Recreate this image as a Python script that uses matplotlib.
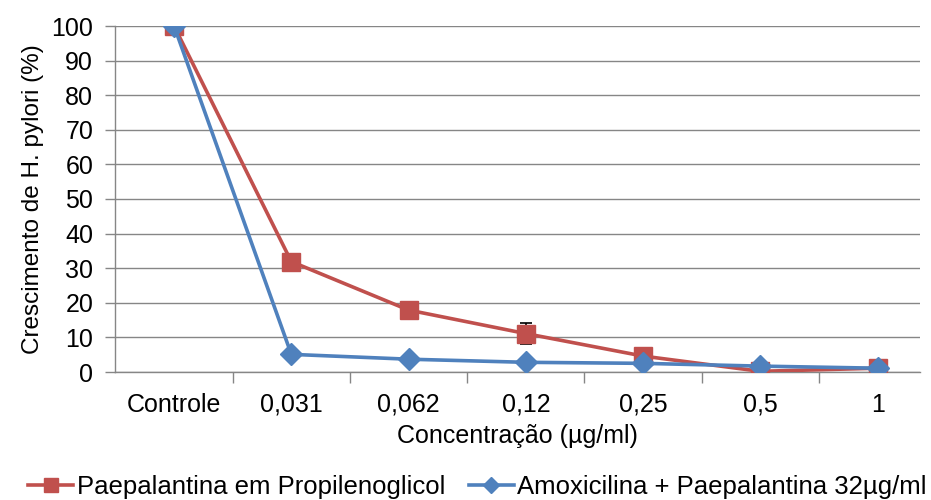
import numpy as np
import matplotlib.pyplot as plt
from matplotlib.lines import Line2D

plt.rcParams['font.family'] = ['Liberation Sans', 'DejaVu Sans']

categorias = ['Controle', '0,031', '0,062', '0,12', '0,25', '0,5', '1']
paepalantina = [100, 31.9, 17.9, 11.1, 4.6, 0.2, 1.1]
paepalantina_erro = [0, 0, 1.5, 3.1, 0, 0, 0]
amoxicilina = [100, 5.1, 3.7, 2.8, 2.5, 1.7, 1.1]

vermelho = '#C0504D'
azul = '#4F81BD'
cinza = '#868686'

fig = plt.figure(figsize=(9.31, 5.0), dpi=100)
ax = fig.add_axes([0.124, 0.256, 0.864, 0.692])

x = np.arange(len(categorias))
ax.errorbar(x, paepalantina, yerr=paepalantina_erro, color=vermelho, lw=2.6,
            marker='s', ms=13, mec=vermelho, ecolor='black', elinewidth=1.2,
            capsize=4, capthick=1.2, zorder=3)
ax.plot(x, amoxicilina, color=azul, lw=2.6, marker='D', ms=11, mec=azul,
        zorder=4)

ax.set_xlim(-0.5, 6.36)
ax.set_ylim(0, 100)
ax.set_yticks(np.arange(0, 101, 10))
ax.yaxis.grid(True, color=cinza, lw=1)
ax.set_axisbelow(True)

ax.set_xticks(x)
ax.set_xticklabels(categorias)
ax.set_xticks(np.arange(0.5, 6, 1), minor=True)
ax.tick_params(axis='x', which='major', length=0, pad=15, labelsize=18)
ax.tick_params(axis='x', which='minor', length=8, color=cinza, width=1)
ax.tick_params(axis='y', length=7, color=cinza, width=1, labelsize=18, pad=9)

for lado in ['top', 'right']:
    ax.spines[lado].set_visible(False)
for lado in ['left', 'bottom']:
    ax.spines[lado].set_color(cinza)
    ax.spines[lado].set_linewidth(1)

ax.set_xlabel('Concentração (µg/ml)', fontsize=18, labelpad=5)
ax.set_ylabel('Crescimento de H. pylori (%)', fontsize=17.5, labelpad=5)

handles = [
    Line2D([], [], color=vermelho, lw=2.6, marker='s', ms=10, mec=vermelho),
    Line2D([], [], color=azul, lw=2.6, marker='D', ms=8, mec=azul),
]
labels = ['Paepalantina em Propilenoglicol', 'Amoxicilina + Paepalantina 32µg/ml']
fig.legend(handles, labels, loc='lower center', ncol=2, frameon=False,
           fontsize=18.5, bbox_to_anchor=(0.513, -0.045), handlelength=1.75,
           handletextpad=0.15, columnspacing=0.9)

fig.savefig('out.png', dpi=100)
